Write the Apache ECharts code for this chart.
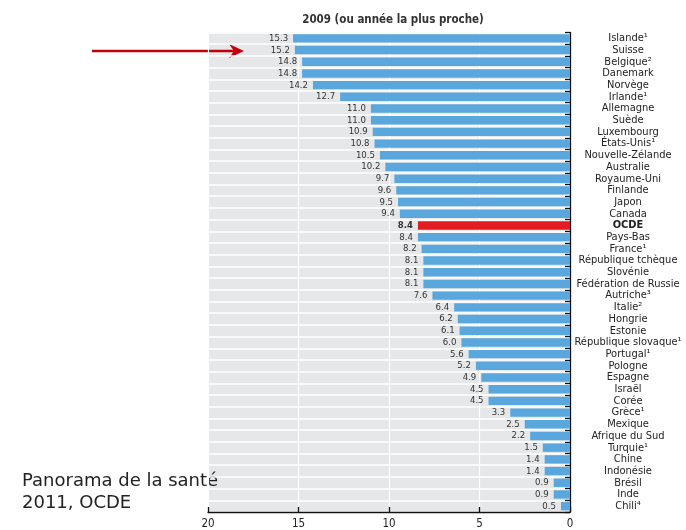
<!DOCTYPE html>
<html><head><meta charset="utf-8">
<script src="https://cdn.jsdelivr.net/npm/echarts@6/dist/echarts.min.js"></script>
<style>html,body{margin:0;padding:0;background:#fff}#c{width:686px;height:530px}</style>
</head><body><div id="c"></div>
<script>
var categories = ['Islande¹','Suisse','Belgique²','Danemark','Norvège','Irlande¹','Allemagne','Suède','Luxembourg','États-Unis¹','Nouvelle-Zélande','Australie','Royaume-Uni','Finlande','Japon','Canada','OCDE','Pays-Bas','France¹','République tchèque','Slovénie','Fédération de Russie','Autriche³','Italie²','Hongrie','Estonie','République slovaque¹','Portugal¹','Pologne','Espagne','Israël','Corée','Grèce¹','Mexique','Afrique du Sud','Turquie¹','Chine','Indonésie','Brésil','Inde','Chili⁴'];
var values = [15.3,15.2,14.8,14.8,14.2,12.7,11.0,11.0,10.9,10.8,10.5,10.2,9.7,9.6,9.5,9.4,8.4,8.4,8.2,8.1,8.1,8.1,7.6,6.4,6.2,6.1,6.0,5.6,5.2,4.9,4.5,4.5,3.3,2.5,2.2,1.5,1.4,1.4,0.9,0.9,0.5];
var highlight = 'OCDE';
var xTicks = [0,5,10,15,20];
var title = '2009 (ou année la plus proche)';
var source = ['Panorama de la santé','2011, OCDE'];

var NARROW = "'Liberation Sans Narrow','Arial Narrow','DejaVu Sans Condensed',sans-serif";
var chart = echarts.init(document.getElementById('c'));
var data = values.map(function(v,i){
  var hl = categories[i] === highlight;
  return {value: v, itemStyle:{color: hl ? '#e31b23' : '#5aa7dd'},
    label: hl ? {fontWeight:'bold'} : {}};
});
chart.setOption({
  animation:false,
  title:{text:title, left:388, textAlign:'center', top:9,
    textStyle:{fontFamily:NARROW, fontSize:11.5, fontWeight:'bold', color:'#333'}},
  grid:{left:208, right:116, top:32.5, bottom:17.5, show:true, backgroundColor:'#e6e7e8', borderWidth:0},
  xAxis:{type:'value', min:xTicks[0], max:xTicks[xTicks.length-1], interval:5, inverse:true,
    axisLine:{show:true, lineStyle:{color:'#111', width:1.3}},
    axisTick:{show:true, inside:true, length:5, lineStyle:{color:'#111', width:1.3}},
    axisLabel:{fontFamily:NARROW, fontSize:11.5, color:'#222', margin:6},
    splitLine:{show:true, lineStyle:{color:'#ffffff', width:1.2}}},
  yAxis:{type:'category', data:categories, inverse:true, position:'right',
    axisLine:{show:true, lineStyle:{color:'#111', width:1.3}},
    axisTick:{show:true, inside:true, length:5, interval:0, lineStyle:{color:'#111', width:1.3}},
    axisLabel:{interval:0, align:'center', margin:58, fontFamily:NARROW, fontSize:11, color:'#222',
      formatter:function(v){return v===highlight ? '{b|'+v+'}' : v;},
      rich:{b:{fontFamily:NARROW, fontSize:11, fontWeight:'bold', color:'#222'}}},
    splitLine:{show:true, interval:0, lineStyle:{color:'#ffffff', width:1.5}}},
  series:[{type:'bar', data:data, barCategoryGap:'28%',
    label:{show:true, position:'left', distance:5, fontFamily:NARROW, fontSize:9.5, color:'#333',
      formatter:function(p){return p.value.toFixed(1);}}}],
  graphic:[
    {type:'text', left:22, top:470, style:{text:source.join('\n'), font:"18px 'DejaVu Sans',Verdana,sans-serif", fill:'#222', lineHeight:22}},
    {type:'line', shape:{x1:92,y1:51,x2:238,y2:51}, style:{stroke:'#c0000a', lineWidth:2.6}},
    {type:'polygon', shape:{points:[[244,51],[229,44],[234,51],[229,58]]}, style:{fill:'#c0000a'}}
  ]
});
</script></body></html>
